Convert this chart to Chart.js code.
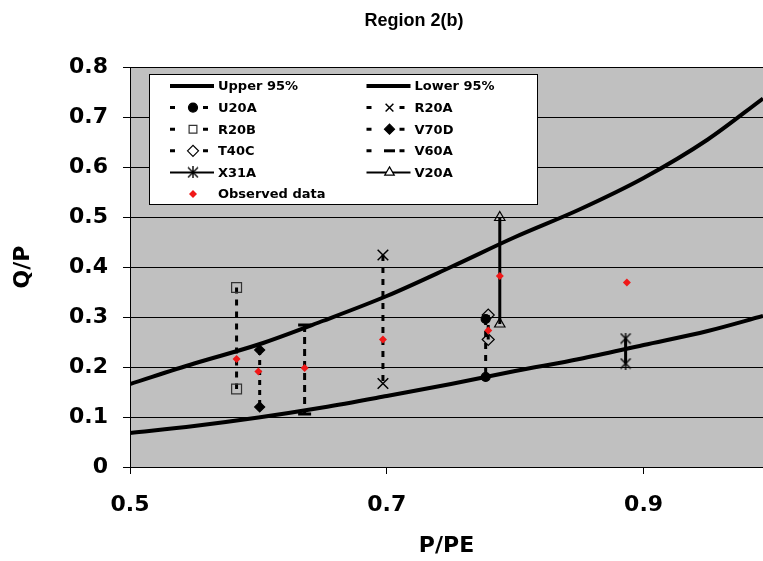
<!DOCTYPE html>
<html>
<head>
<meta charset="utf-8">
<script src="https://cdn.jsdelivr.net/npm/chart.js@4.4.1/dist/chart.umd.min.js"></script>
<style>
  body { margin: 0; background: #fff; }
</style>
</head>
<body>
<canvas id="chart" width="763" height="561"></canvas>
<script>
// 95% bounds
const boundX = [0.5, 0.55, 0.6, 0.65, 0.7, 0.75, 0.8, 0.85, 0.9, 0.95, 0.993];
const upperY = [0.166, 0.207, 0.245, 0.292, 0.342, 0.400, 0.460, 0.515, 0.578, 0.655, 0.737];
const lowerY = [0.068, 0.082, 0.099, 0.119, 0.142, 0.166, 0.192, 0.216, 0.244, 0.272, 0.302];

// specimen ranges: [x, high, low]
const u20a = [0.777, 0.296, 0.180];
const r20a = [0.697, 0.424, 0.167];
const r20b = [0.583, 0.359, 0.156];
const v70d = [0.601, 0.234, 0.120];
const t40c = [0.779, 0.304, 0.255];
const v60a = [0.636, 0.284, 0.106];
const x31a = [0.886, 0.257, 0.207];
const v20a = [0.788, 0.499, 0.286];

const obsX = [0.583, 0.600, 0.636, 0.697, 0.779, 0.788, 0.887];
const obsY = [0.216, 0.191, 0.198, 0.255, 0.273, 0.382, 0.369];

const xTicks = [0.5, 0.7, 0.9];

const pts = (xs, ys) => xs.map((x, i) => ({ x: x, y: ys[i] }));
const range = (r) => [{ x: r[0], y: r[1] }, { x: r[0], y: r[2] }];

function asterisk(size) {
  const c = document.createElement("canvas");
  c.width = size;
  c.height = size;
  const g = c.getContext("2d");
  g.strokeStyle = "#000";
  g.lineWidth = 1.4;
  g.beginPath();
  g.moveTo(1, 1); g.lineTo(size - 1, size - 1);
  g.moveTo(size - 1, 1); g.lineTo(1, size - 1);
  g.moveTo(size / 2, 0); g.lineTo(size / 2, size);
  g.stroke();
  return c;
}
const star = asterisk(12);

function rangeSet(label, r, style, extra) {
  return Object.assign({
    label: label,
    data: range(r),
    showLine: true,
    borderColor: "#000",
    backgroundColor: "#000",
    borderWidth: 3,
    pointStyle: style,
    pointRadius: 5,
    pointBorderWidth: 1.2,
    pointBorderColor: "#000",
    pointBackgroundColor: "#000",
    order: 2,
  }, extra);
}

const datasets = [
  { label: "Upper 95%", data: pts(boundX, upperY), showLine: true, borderColor: "#000", borderWidth: 4,
    pointRadius: 0, cubicInterpolationMode: "monotone", order: 3 },
  { label: "Lower 95%", data: pts(boundX, lowerY), showLine: true, borderColor: "#000", borderWidth: 4,
    pointRadius: 0, cubicInterpolationMode: "monotone", order: 3 },
  rangeSet("U20A", u20a, "circle", { borderDash: [6, 6], pointRadius: 4.5 }),
  rangeSet("R20A", r20a, "crossRot", { borderDash: [6, 6], pointRadius: 7.5, pointBorderWidth: 1.5 }),
  rangeSet("R20B", r20b, "rect", { borderDash: [6, 6], pointRadius: 7, pointBackgroundColor: "rgba(0,0,0,0)",
    pointBorderColor: "#333" }),
  rangeSet("V70D", v70d, "rectRot", { borderDash: [5, 5], pointRadius: 5 }),
  rangeSet("T40C", t40c, "rectRot", { borderDash: [5, 5], pointRadius: 6, pointBackgroundColor: "rgba(0,0,0,0)" }),
  rangeSet("V60A", v60a, "line", { borderDash: [7, 5], pointRadius: 6.5, pointBorderWidth: 3 }),
  rangeSet("X31A", x31a, star, { borderWidth: 3 }),
  rangeSet("V20A", v20a, "triangle", { borderWidth: 3, pointRadius: 6, pointBackgroundColor: "rgba(0,0,0,0)" }),
  { label: "Observed data", data: pts(obsX, obsY), showLine: false, pointStyle: "rectRot", pointRadius: 4,
    pointBorderWidth: 0, backgroundColor: "#f01818", borderColor: "#f01818", order: 0 },
];

const plotBg = {
  id: "plotBg",
  beforeDraw(chart) {
    const a = chart.chartArea;
    const ctx = chart.ctx;
    ctx.save();
    ctx.fillStyle = "#c0c0c0";
    ctx.fillRect(a.left, a.top, a.right - a.left, a.bottom - a.top);
    ctx.restore();
  },
};

const boxLegend = {
  id: "boxLegend",
  afterDraw(chart) {
    const ctx = chart.ctx;
    ctx.save();
    ctx.fillStyle = "#fff";
    ctx.fillRect(149.5, 74.5, 388, 130);
    ctx.strokeStyle = "#000";
    ctx.lineWidth = 1;
    ctx.strokeRect(149.5, 74.5, 388, 130);
    ctx.font = "bold 13px 'DejaVu Sans'";
    ctx.textBaseline = "middle";
    chart.data.datasets.forEach((ds, i) => {
      const col = i % 2;
      const row = Math.floor(i / 2);
      const x0 = 170 + col * 196.5;
      const y = 86 + row * 21.6;
      const xm = x0 + 23;
      if (ds.showLine) {
        ctx.strokeStyle = "#000";
        ctx.beginPath();
        if (ds.borderDash) {
          ctx.lineWidth = 3;
          ctx.setLineDash([5, 28]);
          ctx.moveTo(x0, y); ctx.lineTo(x0 + 38, y);
        } else {
          ctx.lineWidth = ds.pointRadius === 0 ? 4 : 2;
          ctx.moveTo(x0, y); ctx.lineTo(x0 + 44, y);
        }
        ctx.stroke();
        ctx.setLineDash([]);
      }
      if (ds.pointRadius > 0) {
        ctx.fillStyle = ds.pointBackgroundColor || ds.backgroundColor;
        ctx.strokeStyle = ds.pointBorderColor || ds.borderColor;
        if (ctx.fillStyle.indexOf("rgba") === 0) {
          ctx.fillStyle = "#fff";
        }
        ctx.lineWidth = ds.pointBorderWidth;
        Chart.helpers.drawPoint(ctx, {
          pointStyle: ds.pointStyle,
          radius: Math.min(ds.pointRadius, 5.5),
          rotation: 0,
          borderWidth: ds.pointBorderWidth,
        }, xm, y);
      }
      ctx.fillStyle = "#000";
      ctx.fillText(ds.label, x0 + 48, y + 1);
    });
    // chart title
    ctx.font = "bold 18px 'Liberation Sans'";
    ctx.textAlign = "center";
    ctx.textBaseline = "alphabetic";
    ctx.fillText("Region 2(b)", 414, 26);
    ctx.restore();
  },
};

new Chart(document.getElementById("chart"), {
  type: "scatter",
  data: { datasets: datasets },
  options: {
    responsive: false,
    animation: false,
    layout: { autoPadding: false, padding: { top: 67, right: 0, bottom: 0, left: 0 } },
    plugins: {
      legend: { display: false },
      tooltip: { enabled: false },
    },
    scales: {
      x: {
        type: "linear",
        min: 0.5,
        max: 0.993,
        afterBuildTicks: (scale) => {
          scale.ticks = xTicks.map((v) => ({ value: v }));
        },
        afterFit: (scale) => {
          scale.height = 94;
          scale.paddingLeft = 0;
          scale.paddingRight = 0;
        },
        grid: { drawOnChartArea: false, drawTicks: true, tickLength: 7, color: "#000" },
        border: { color: "#000", width: 1 },
        ticks: {
          color: "#000",
          padding: 18,
          maxRotation: 0,
          font: { family: "'DejaVu Sans'", size: 22, weight: "bold" },
          callback: (v) => String(v),
        },
        title: {
          display: true,
          text: "P/PE",
          color: "#000",
          padding: { top: 0, bottom: 2 },
          font: { family: "'DejaVu Sans'", size: 22, weight: "bold" },
        },
      },
      y: {
        min: 0,
        max: 0.8,
        afterFit: (scale) => {
          scale.width = 130;
          scale.paddingTop = 0;
          scale.paddingBottom = 0;
        },
        grid: { color: "#000", lineWidth: 1, drawTicks: true, tickLength: 7 },
        border: { color: "#000", width: 1 },
        ticks: {
          stepSize: 0.1,
          color: "#000",
          padding: 15,
          font: { family: "'DejaVu Sans'", size: 22, weight: "bold" },
          callback: (v) => String(Math.round(v * 10) / 10),
        },
        title: {
          display: true,
          text: "Q/P",
          color: "#000",
          padding: { top: 10, bottom: 0 },
          font: { family: "'DejaVu Sans'", size: 22, weight: "bold" },
        },
      },
    },
  },
  plugins: [plotBg, boxLegend],
});
</script>
</body>
</html>
